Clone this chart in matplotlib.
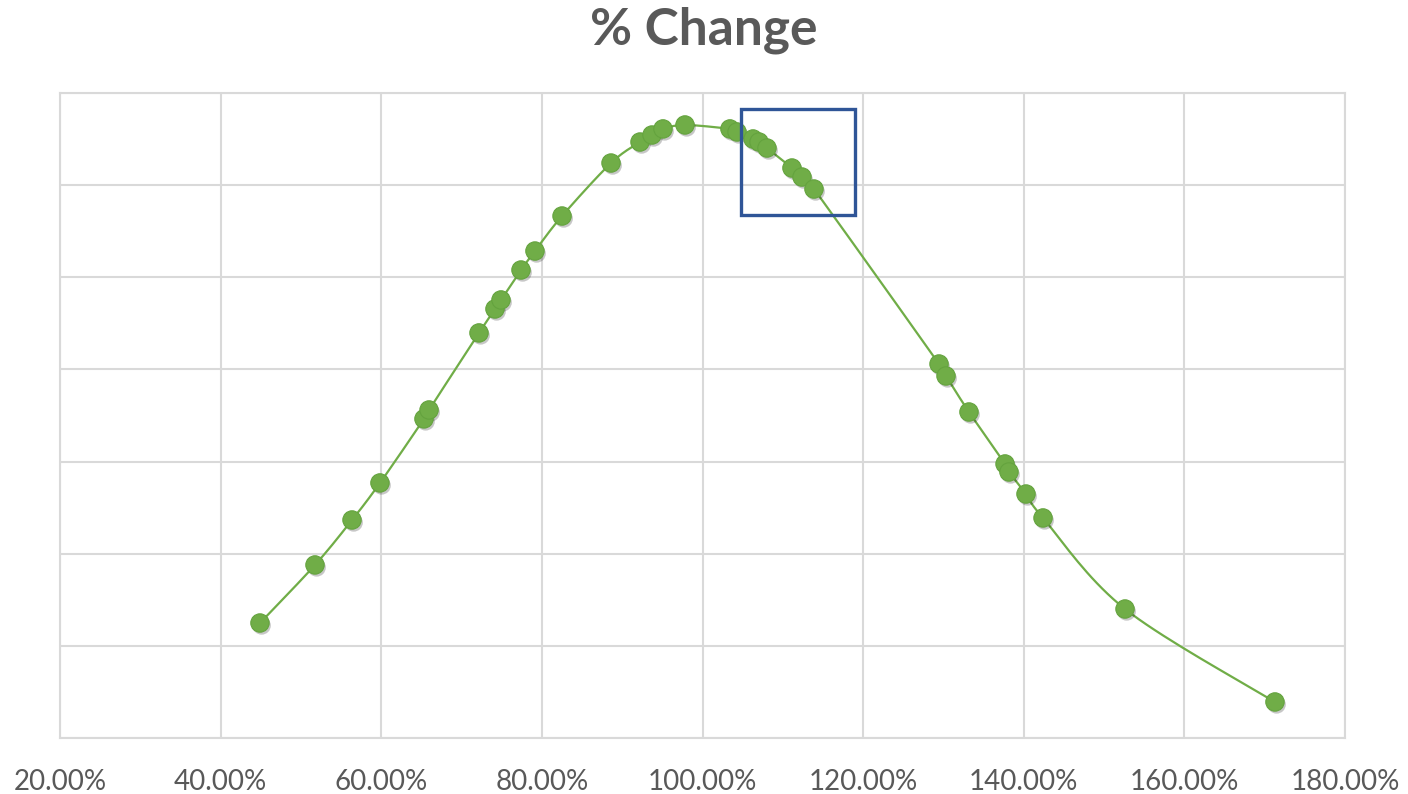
import matplotlib
matplotlib.use("Agg")
import matplotlib.pyplot as plt
import matplotlib.patheffects as pe
from matplotlib.patches import Rectangle
from matplotlib.ticker import FuncFormatter
import numpy as np

# data (x as percent, y in gridline units)
pct_change = [44.90, 51.75, 56.36, 59.84, 65.32, 65.95, 72.17, 74.16, 74.91, 77.40,
              79.14, 82.51, 88.61, 92.22, 93.71, 95.08, 97.82, 103.42, 104.30, 106.29,
              107.04, 108.03, 111.14, 112.39, 113.88, 129.45, 130.32, 133.18, 137.67, 138.16,
              140.28, 142.40, 152.61, 171.28]
values = [1.248, 1.878, 2.366, 2.768, 3.463, 3.560, 4.396, 4.656, 4.754, 5.079,
          5.285, 5.665, 6.240, 6.468, 6.544, 6.610, 6.653, 6.610, 6.577, 6.501,
          6.468, 6.403, 6.186, 6.088, 5.958, 4.059, 3.929, 3.538, 2.974, 2.887,
          2.648, 2.388, 1.400, 0.391]
x_ticks = [20, 40, 60, 80, 100, 120, 140, 160, 180]
y_ticks = [0, 1, 2, 3, 4, 5, 6, 7]
highlight_x = (104.8, 119.0)
highlight_y = (5.68, 6.83)

GREEN = '#70AD47'
GRID = '#D9D9D9'
TEXT = '#595959'


def smooth_line(xs, ys, steps=20):
    """Catmull-Rom style smoothing, like Excel's smoothed scatter line"""
    pts = np.column_stack([xs, ys])
    pts = np.vstack([pts[0], pts, pts[-1]])
    out = []
    for i in range(1, len(pts) - 2):
        p0, p1, p2, p3 = pts[i - 1], pts[i], pts[i + 1], pts[i + 2]
        c1 = p1 + (p2 - p0) / 6.0
        c2 = p2 - (p3 - p1) / 6.0
        t = np.linspace(0, 1, steps)[:, None]
        seg = ((1 - t) ** 3) * p1 + 3 * ((1 - t) ** 2) * t * c1 + 3 * (1 - t) * t ** 2 * c2 + t ** 3 * p2
        out.append(seg)
    out = np.vstack(out)
    return out[:, 0], out[:, 1]


fig = plt.figure(figsize=(14.08, 7.94), dpi=100)
ax = fig.add_axes([60 / 1408, 56 / 794, 1285 / 1408, 645 / 794])

sx, sy = smooth_line(pct_change, values)
ax.plot(sx, sy, color=GREEN, linewidth=1.6, zorder=3)

# markers with a soft drop shadow
ax.scatter(pct_change, values, s=175, color=GREEN, edgecolor='#64A33E', linewidth=0.8,
           zorder=4,
           path_effects=[pe.SimplePatchShadow(offset=(1.2, -1.8), shadow_rgbFace='black', alpha=0.22),
                         pe.Normal()])

ax.add_patch(Rectangle((highlight_x[0], highlight_y[0]),
                       highlight_x[1] - highlight_x[0], highlight_y[1] - highlight_y[0],
                       fill=False, edgecolor='#2F5597', linewidth=2.4, zorder=5))

ax.set_xlim(20, 180)
ax.set_ylim(0, 7)
ax.set_xticks(x_ticks)
ax.set_yticks(y_ticks)
ax.xaxis.set_major_formatter(FuncFormatter(lambda v, p: f"{v:.2f}%"))
ax.set_yticklabels([])
ax.tick_params(axis='both', length=0)
ax.tick_params(axis='x', pad=22, labelsize=20, labelcolor=TEXT)
for lab in ax.get_xticklabels():
    lab.set_fontfamily('Lato')

ax.grid(True, color=GRID, linewidth=1.5)
ax.set_axisbelow(True)
for sp in ax.spines.values():
    sp.set_color(GRID)
    sp.set_linewidth(1.5)

fig.text(0.5, 1 - 30 / 794, '% Change', ha='center', va='center',
         fontsize=37, fontweight='bold', color=TEXT, family='Lato')

fig.savefig('out.png', dpi=100, facecolor='white')
